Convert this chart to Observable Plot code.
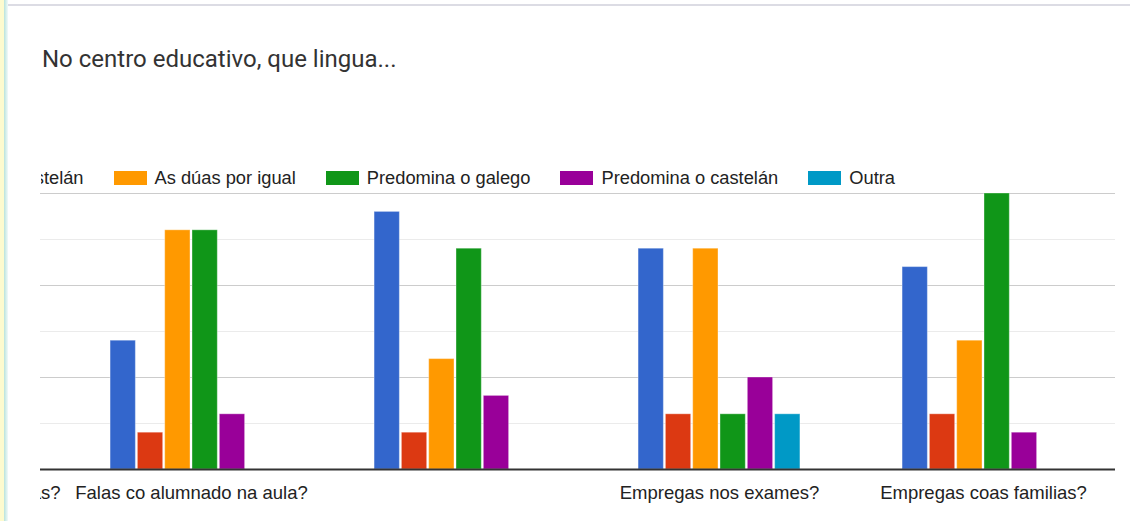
<!DOCTYPE html>
<html>
<head>
<meta charset="utf-8">
<script src="https://cdn.jsdelivr.net/npm/d3@7"></script>
<script src="https://cdn.jsdelivr.net/npm/@observablehq/plot@0.6"></script>
<style>
  html, body { margin: 0; padding: 0; background: #fff; }
  body { width: 1132px; height: 521px; position: relative; overflow: hidden; }
  #strip { position: absolute; left: 0; top: 0; width: 4px; height: 521px; background: #fdfbcf; }
  #edge { position: absolute; left: 4px; top: 0; width: 4px; height: 521px; background: linear-gradient(to right, #b9e3dc, #f2faf9); }
  #topline { position: absolute; left: 8px; top: 4px; width: 1122px; height: 2px; background: #dcdce4; }
  #title { position: absolute; left: 42px; top: 45px; font-family: Roboto, sans-serif; font-size: 24px; line-height: 28px; color: #333; white-space: nowrap; }
  #legendclip { position: absolute; left: 41px; top: 166px; width: 1076px; height: 24px; overflow: hidden; }
  #legend { position: absolute; right: 222px; top: 1px; display: flex; align-items: center; white-space: nowrap; font-family: "Liberation Sans", Arial, sans-serif; font-size: 18.3px; color: #222; }
  .item { display: flex; align-items: center; margin-left: 30px; }
  .sw { width: 33px; height: 14px; margin-right: 8px; }
  #chart { position: absolute; left: 40px; top: 188px; }
</style>
</head>
<body>
<div id="strip"></div>
<div id="edge"></div>
<div id="topline"></div>
<div id="title">No centro educativo, que lingua...</div>
<div id="legendclip"><div id="legend"></div></div>
<div id="chart"></div>
<script>
// Categories (question groups); the first is scrolled out of view in the reference
const groups = [
  "Falas cos profesores nas aulas?",
  "Falas co alumnado na aula?",
  "Falas co alumnado fóra da aula?",
  "Empregas nos exames?",
  "Empregas coas familias?"
];
// Labels that the reference leaves undrawn
const hiddenLabels = ["Falas co alumnado fóra da aula?"];
const series = ["Só galego", "Só castelán", "As dúas por igual", "Predomina o galego", "Predomina o castelán", "Outra"];
const colors = ["#3366cc", "#dc3912", "#ff9900", "#109618", "#990099", "#0099c6"];

// Values per visible group, in series order
const valuesAula = [7, 2, 13, 13, 3, 0];
const valuesFora = [14, 2, 6, 12, 4, 0];
const valuesExames = [12, 3, 12, 3, 5, 3];
const valuesFamilias = [11, 3, 7, 15, 2, 0];

const majorTicks = [5, 10, 15];
const minorTicks = [2.5, 7.5, 12.5];

const table = [];
[[groups[1], valuesAula], [groups[2], valuesFora], [groups[3], valuesExames], [groups[4], valuesFamilias]]
  .forEach(([g, vals]) => vals.forEach((v, i) => table.push({group: g, series: series[i], value: v})));

// gridlines repeated in every group panel so they run across the whole width
const gridRows = (ticks) => ticks.flatMap(t => groups.map(g => ({group: g, value: t})));

// Legend
const legend = document.getElementById("legend");
series.forEach((s, i) => {
  const it = document.createElement("div");
  it.className = "item";
  const sw = document.createElement("div");
  sw.className = "sw";
  sw.style.background = colors[i];
  const tx = document.createElement("span");
  tx.textContent = s;
  it.appendChild(sw); it.appendChild(tx);
  legend.appendChild(it);
});

const chart = Plot.plot({
  width: 1077,
  height: 333,
  marginLeft: 2,
  marginRight: 0,
  marginTop: 5,
  marginBottom: 52,
  facet: {marginTop: 0, marginBottom: 0, marginLeft: 0, marginRight: 0},
  style: {fontFamily: "'Liberation Sans', Arial, sans-serif", fontSize: "18.5px", color: "#222", background: "transparent", overflow: "hidden"},
  fx: {domain: groups, range: [-245, 1075], padding: 0, round: false, axis: null},
  x: {domain: series, paddingInner: 0.074, paddingOuter: 1.87, round: false, axis: null},
  y: {domain: [0, 15], axis: null},
  color: {domain: series, range: colors},
  marks: [
    Plot.ruleY(gridRows(minorTicks), {fx: "group", y: "value", stroke: "#ebebeb", strokeWidth: 1}),
    Plot.ruleY(gridRows(majorTicks), {fx: "group", y: "value", stroke: "#cccccc", strokeWidth: 1}),
    Plot.barY(table, {fx: "group", x: "series", y: "value", fill: "series", stroke: "#ffffff", strokeOpacity: 0.35, strokeWidth: 1}),
    Plot.ruleY(gridRows([0]), {fx: "group", y: "value", stroke: "#333333", strokeWidth: 2}),
    Plot.axisFx({anchor: "bottom", tickSize: 0, tickPadding: 16, fontSize: 18.5, fill: "#222", label: null,
      tickFormat: d => hiddenLabels.includes(d) ? "" : d})
  ]
});
document.getElementById("chart").appendChild(chart);
</script>
</body>
</html>
